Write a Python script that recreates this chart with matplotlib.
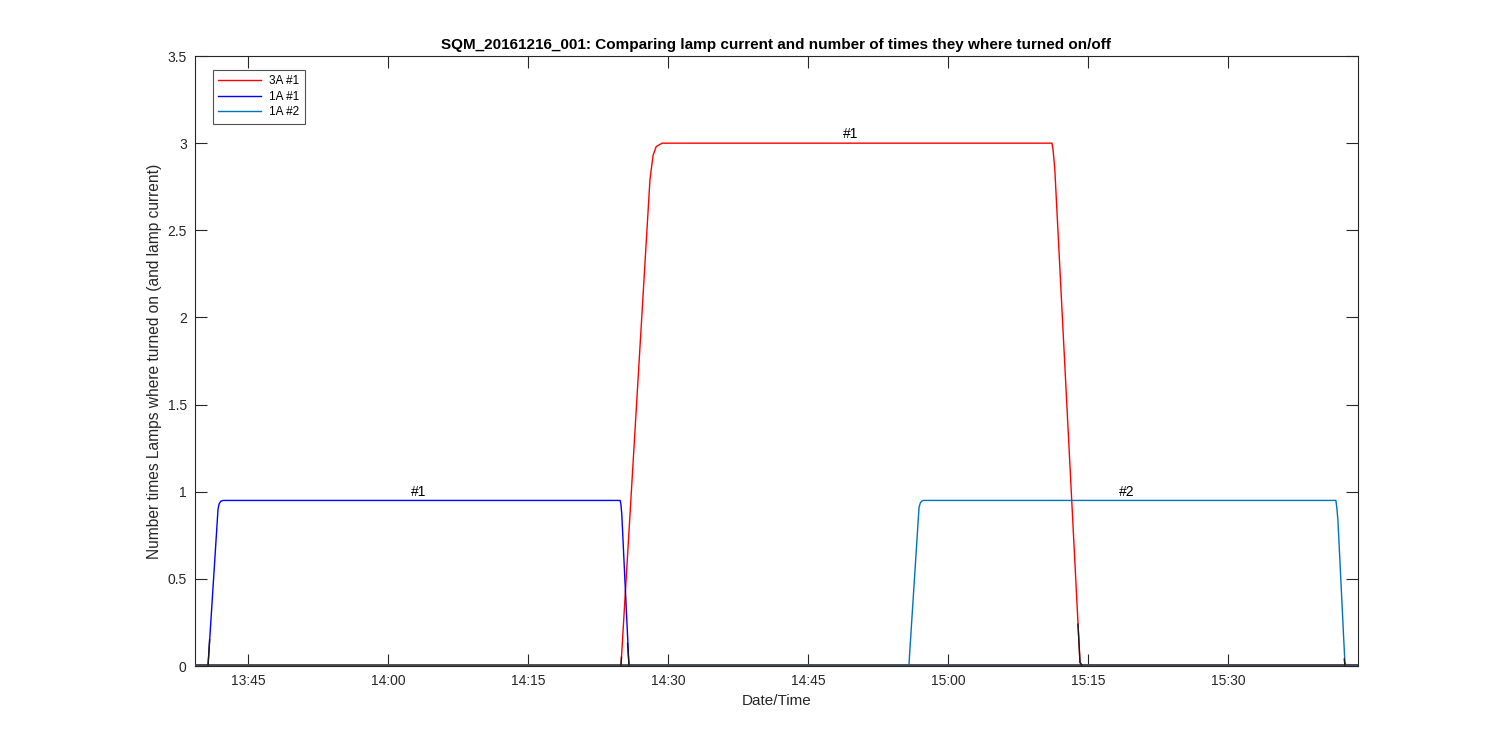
import numpy as np
import pandas as pd
import matplotlib
matplotlib.use('Agg')
import matplotlib.pyplot as plt
import matplotlib.dates as mdates

plt.rcParams['font.family'] = ['Liberation Sans', 'DejaVu Sans']

day = '2016-12-16 '

# lamp current traces (time, value)
red_t = ['13:39:19', '14:24:58', '14:28:04', '14:28:24', '14:28:44', '14:29:22',
         '15:11:09', '15:11:16', '15:11:27', '15:14:09', '15:14:20', '15:43:56']
red_v = [0.005, 0.005, 2.79, 2.93, 2.98, 3.0,
         3.0, 2.96, 2.85, 0.02, 0.005, 0.005]

blue_t = ['13:39:19', '13:40:43', '13:41:47', '13:41:54', '13:42:04', '13:42:20',
          '14:24:52', '14:24:57', '14:25:03', '14:25:49', '15:43:56']
blue_v = [0.005, 0.005, 0.90, 0.93, 0.945, 0.95,
          0.95, 0.93, 0.87, 0.005, 0.005]

cyan_t = ['13:39:19', '14:55:49', '14:56:54', '14:57:02', '14:57:10', '14:57:22',
          '15:41:34', '15:41:40', '15:41:47', '15:42:32', '15:42:40', '15:43:56']
cyan_v = [0.005, 0.005, 0.91, 0.935, 0.945, 0.95,
          0.95, 0.91, 0.84, 0.02, 0.005, 0.005]

# black "off" pieces drawn on top near zero
off_base_t = ['13:39:19', '15:43:56']
off_base_v = [0.005, 0.005]
off_segs = [
    (['13:40:43', '13:40:53'], [0.005, 0.15]),
    (['14:25:40', '14:25:49'], [0.13, 0.005]),
    (['14:24:58', '14:25:01'], [0.005, 0.05]),
    (['15:13:56', '15:14:09', '15:14:20'], [0.24, 0.02, 0.005]),
    (['15:42:28', '15:42:32'], [0.04, 0.005]),
]

labels = ['#1', '#1', '#2']
label_t = ['14:03:16', '14:49:33', '15:19:11']
label_v = [0.95, 3.0, 0.95]

legend_names = ['3A #1', '1A #1', '1A #2']


def tt(lst):
    return pd.to_datetime([day + s for s in lst])


fig = plt.figure(figsize=(15, 7.5), dpi=100)
ax = fig.add_axes([0.13, 0.112, 0.7753, 0.8133])

ax.plot(tt(red_t), red_v, color='#ff0000', lw=1.0, label=legend_names[0])
ax.plot(tt(blue_t), blue_v, color='#0000ff', lw=1.0, label=legend_names[1])
ax.plot(tt(cyan_t), cyan_v, color='#0072bd', lw=1.0, label=legend_names[2])

ax.plot(tt(off_base_t), off_base_v, color='#4a4a4a', lw=1.8, zorder=3)
for st, sv in off_segs:
    ax.plot(tt(st), sv, color='#1a1a1a', lw=1.0, zorder=3)

for lab, t, v in zip(labels, tt(label_t), label_v):
    ax.text(t, v + 0.05, lab, ha='center', va='center', fontsize=10, color='k')

ax.set_xlim(pd.Timestamp(day + '13:39:19'), pd.Timestamp(day + '15:43:56'))
ax.set_ylim(0, 3.5)
ax.set_yticks(np.arange(0, 3.51, 0.5))
ax.set_yticklabels(['0', '0.5', '1', '1.5', '2', '2.5', '3', '3.5'])
ax.xaxis.set_major_locator(mdates.MinuteLocator(byminute=[0, 15, 30, 45]))
ax.xaxis.set_major_formatter(mdates.DateFormatter('%H:%M'))

axcol = '#262626'
for sp in ax.spines.values():
    sp.set_color(axcol)
    sp.set_linewidth(0.8)
ax.tick_params(direction='in', length=8.4, width=0.8, colors=axcol,
               labelsize=10, top=True, right=True, pad=6)

ax.set_xlabel('Date/Time', fontsize=11, color=axcol)
ax.set_ylabel('Number times Lamps where turned on (and lamp current)', fontsize=11.2, color=axcol)
ax.set_title('SQM_20161216_001: Comparing lamp current and number of times they where turned on/off',
             fontsize=11, fontweight='bold', color='k', pad=5)

leg = ax.legend(loc='upper left', bbox_to_anchor=(0.0155, 0.977), fontsize=8.5,
                handlelength=3.6, frameon=True, fancybox=False, borderaxespad=0,
                labelspacing=0.3, handletextpad=0.7, borderpad=0.45)
leg.get_frame().set_edgecolor(axcol)
leg.get_frame().set_linewidth(0.8)

fig.savefig('out.png', dpi=100)
